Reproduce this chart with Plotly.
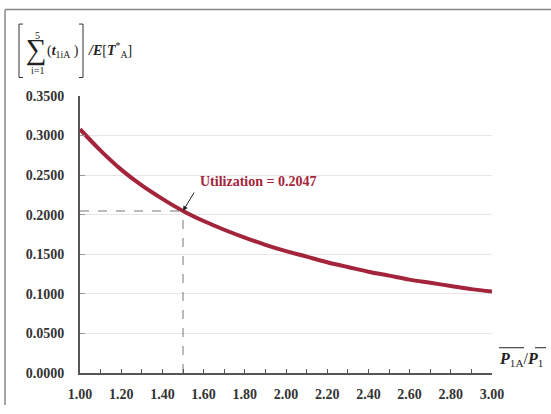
import plotly.graph_objects as go

ratio = [1.0, 1.1, 1.2, 1.3, 1.4, 1.5, 1.6, 1.7, 1.8, 1.9, 2.0,
         2.1, 2.2, 2.3, 2.4, 2.5, 2.6, 2.7, 2.8, 2.9, 3.0]
utilization = [0.308, 0.281, 0.257, 0.237, 0.220, 0.2047, 0.192, 0.181, 0.171, 0.162, 0.154,
               0.147, 0.140, 0.134, 0.128, 0.123, 0.118, 0.114, 0.110, 0.106, 0.103]
marker_x = 1.5
marker_y = 0.2047
x_ticks = [1.0, 1.2, 1.4, 1.6, 1.8, 2.0, 2.2, 2.4, 2.6, 2.8, 3.0]
x_tick_labels = ["1.00", "1.20", "1.40", "1.60", "1.80", "2.00", "2.20", "2.40", "2.60", "2.80", "3.00"]
y_ticks = [0.0, 0.05, 0.10, 0.15, 0.20, 0.25, 0.30, 0.35]
y_tick_labels = ["0.0000", "0.0500", "0.1000", "0.1500", "0.2000", "0.2500", "0.3000", "0.3500"]

W, H = 551, 414
L, R, T, B = 80, 492, 96, 381

def px(x):
    return (x - L) / (R - L)

def py(y):
    return (B - y) / (B - T)

SERIF = "Liberation Serif, Times New Roman, serif"
RED = "#a3243b"
INK = "#222222"

fig = go.Figure()
fig.add_trace(go.Scatter(x=[ratio[0], marker_x], y=[marker_y, marker_y], mode="lines",
                         line=dict(color="#777777", width=1, dash="dash"), hoverinfo="skip"))
fig.add_trace(go.Scatter(x=[marker_x, marker_x], y=[0, marker_y], mode="lines",
                         line=dict(color="#777777", width=1, dash="dash"), hoverinfo="skip"))
fig.add_trace(go.Scatter(x=ratio, y=utilization, mode="lines",
                         line=dict(color=RED, width=4, shape="spline"), hoverinfo="skip"))

fig.update_xaxes(range=[1.0, 3.0], tickvals=x_ticks, ticktext=x_tick_labels,
                 showgrid=False, showline=True, linecolor="#555555", linewidth=2,
                 ticks="inside", ticklen=4, tickcolor="#555555", tickwidth=1,
                 minor=dict(ticks="inside", ticklen=4, tickcolor="#555555", dtick=0.1, tick0=1.0),
                 tickfont=dict(family=SERIF, size=14, color="#333333", weight="bold"), zeroline=False,
                 ticklabelstandoff=7)
fig.update_yaxes(range=[0, 0.35], tickvals=y_ticks, ticktext=y_tick_labels,
                 showgrid=True, gridcolor="#e6e6e6", gridwidth=1,
                 showline=True, linecolor="#555555", linewidth=2,
                 ticks="inside", ticklen=5, tickcolor="#999999",
                 tickfont=dict(family=SERIF, size=14, color="#333333", weight="bold"), zeroline=False,
                 ticklabelstandoff=11)

ann = []
ann.append(dict(x=marker_x, y=marker_y, xref="x", yref="y", ax=12, ay=-20,
                text="", showarrow=True, arrowhead=2, arrowsize=1, arrowwidth=1, arrowcolor=INK))
ann.append(dict(x=px(198), y=py(184), xref="paper", yref="paper", xanchor="left", yanchor="middle",
                text="<b>Utilization = 0.2047</b>", showarrow=False,
                font=dict(family=SERIF, size=14, color=RED)))
# y title pieces
ann.append(dict(x=px(36), y=py(48), xref="paper", yref="paper", xanchor="center", yanchor="middle",
                text="∑", showarrow=False, font=dict(family=SERIF, size=29, color=INK)))
ann.append(dict(x=px(37), y=py(34), xref="paper", yref="paper", xanchor="center", yanchor="middle",
                text="5", showarrow=False, font=dict(family=SERIF, size=10, color=INK)))
ann.append(dict(x=px(37), y=py(70), xref="paper", yref="paper", xanchor="center", yanchor="middle",
                text="i=1", showarrow=False, font=dict(family=SERIF, size=10, color=INK)))
ann.append(dict(x=px(45), y=py(50), xref="paper", yref="paper", xanchor="left", yanchor="middle",
                text="(<b><i>t</i></b><sub>1iA</sub> )", showarrow=False,
                font=dict(family=SERIF, size=14, color=INK)))
ann.append(dict(x=px(86), y=py(49), xref="paper", yref="paper", xanchor="left", yanchor="middle",
                text="<b><i>/E</i></b>[<b><i>T</i></b><sup>*</sup><sub>A</sub>]", showarrow=False,
                font=dict(family=SERIF, size=14, color=INK)))
# x title
ann.append(dict(x=px(497), y=py(367), xref="paper", yref="paper", xanchor="left", yanchor="middle",
                text="<b><i>P</i></b><sub>1A</sub>/<b><i>P</i></b><sub>1</sub>", showarrow=False,
                font=dict(family=SERIF, size=16, color=INK)))

shapes = []
lw = dict(color="#333333", width=1)
# brackets
shapes.append(dict(type="path", xref="paper", yref="paper",
                   path=f"M {px(23)} {py(22)} L {px(19)} {py(22)} L {px(19)} {py(77)} L {px(23)} {py(77)}",
                   line=lw))
shapes.append(dict(type="path", xref="paper", yref="paper",
                   path=f"M {px(79)} {py(22)} L {px(83)} {py(22)} L {px(83)} {py(77)} L {px(79)} {py(77)}",
                   line=lw))
# overlines on x title
shapes.append(dict(type="line", xref="paper", yref="paper", x0=px(499), x1=px(524), y0=py(355), y1=py(355),
                   line=dict(color=INK, width=1)))
shapes.append(dict(type="line", xref="paper", yref="paper", x0=px(535), x1=px(546), y0=py(355), y1=py(355),
                   line=dict(color=INK, width=1)))
# outer frame
shapes.append(dict(type="line", xref="paper", yref="paper", x0=px(5), x1=px(551), y0=py(7), y1=py(7),
                   line=dict(color="#888888", width=1.5)))
shapes.append(dict(type="line", xref="paper", yref="paper", x0=px(5), x1=px(5), y0=py(7), y1=py(414),
                   line=dict(color="#888888", width=1.5)))

fig.update_layout(width=W, height=H, margin=dict(l=L, r=W - R, t=T, b=H - B),
                  paper_bgcolor="white", plot_bgcolor="white", showlegend=False,
                  annotations=ann, shapes=shapes)

fig.write_html("out.html", config={"displayModeBar": False},
               post_script="document.body.style.margin='0';document.body.style.overflow='hidden';")
